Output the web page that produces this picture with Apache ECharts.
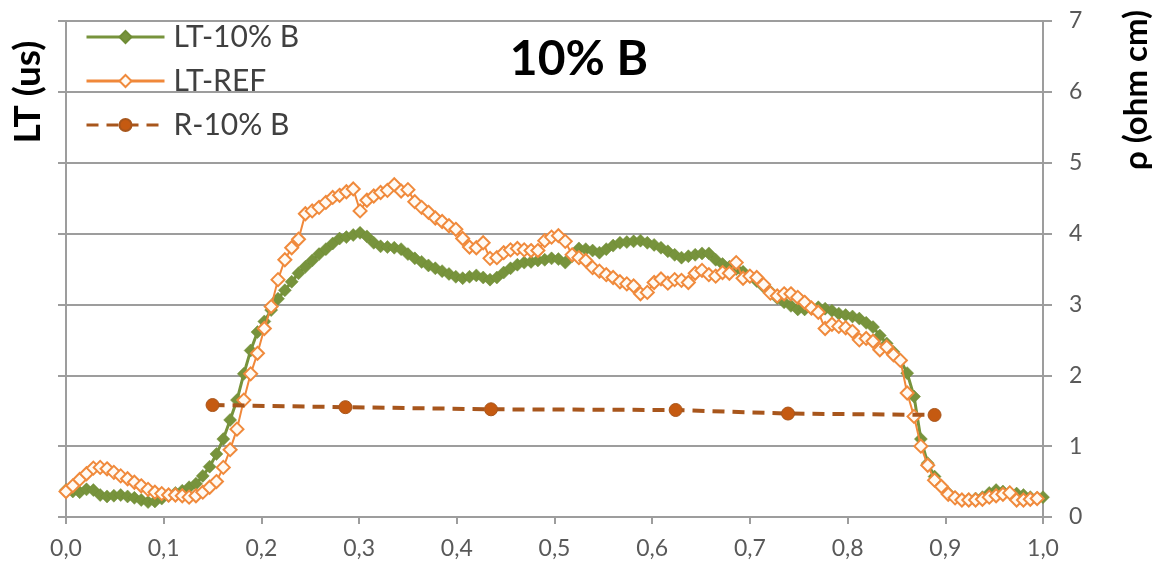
<!DOCTYPE html>
<html>
<head>
<meta charset="utf-8">
<script src="https://cdn.jsdelivr.net/npm/echarts@6/dist/echarts.min.js"></script>
<style>
html,body{margin:0;padding:0;background:#fff;}
#chart{width:1164px;height:586px;}
</style>
</head>
<body>
<div id="chart"></div>
<script>
// ---- Data ----
const xTickLabels = ['0,0','0,1','0,2','0,3','0,4','0,5','0,6','0,7','0,8','0,9','1,0'];
const yTickLabels = ['0','1','2','3','4','5','6','7'];

const xs = [0.000,0.007,0.014,0.021,0.028,0.035,0.042,0.049,0.056,0.063,
0.070,0.077,0.084,0.091,0.098,0.105,0.112,0.119,0.126,0.133,
0.140,0.147,0.154,0.161,0.168,0.175,0.182,0.189,0.196,0.203,
0.210,0.217,0.224,0.231,0.238,0.245,0.252,0.259,0.266,0.273,
0.280,0.287,0.294,0.301,0.308,0.315,0.322,0.329,0.336,0.343,
0.350,0.357,0.364,0.371,0.378,0.385,0.392,0.399,0.406,0.413,
0.420,0.427,0.434,0.441,0.448,0.455,0.462,0.469,0.476,0.483,
0.490,0.497,0.504,0.511,0.518,0.525,0.532,0.539,0.546,0.553,
0.560,0.567,0.574,0.581,0.588,0.595,0.602,0.609,0.616,0.623,
0.630,0.637,0.644,0.651,0.658,0.665,0.672,0.679,0.686,0.693,
0.700,0.707,0.714,0.721,0.728,0.735,0.742,0.749,0.756,0.763,
0.770,0.777,0.784,0.791,0.798,0.805,0.812,0.819,0.826,0.833,
0.840,0.847,0.854,0.861,0.868,0.875,0.882,0.889,0.896,0.903,
0.910,0.917,0.924,0.931,0.938,0.945,0.952,0.959,0.966,0.973,
0.980,0.987,0.994,1.000];

const lt10B = [0.38,0.36,0.35,0.39,0.38,0.31,0.29,0.30,0.31,0.29,
0.27,0.24,0.21,0.22,0.26,0.30,0.34,0.37,0.42,0.47,
0.58,0.71,0.89,1.10,1.37,1.65,2.02,2.35,2.61,2.76,
2.92,3.08,3.20,3.32,3.44,3.53,3.62,3.71,3.78,3.86,
3.93,3.95,3.98,4.01,3.96,3.87,3.82,3.81,3.80,3.78,
3.71,3.65,3.60,3.55,3.51,3.47,3.43,3.39,3.37,3.39,
3.41,3.38,3.35,3.38,3.45,3.51,3.56,3.59,3.60,3.62,
3.63,3.65,3.64,3.59,3.68,3.79,3.78,3.76,3.73,3.78,
3.83,3.87,3.88,3.89,3.90,3.87,3.84,3.80,3.75,3.70,
3.66,3.68,3.70,3.72,3.72,3.63,3.57,3.53,3.50,3.46,
3.39,3.33,3.25,3.18,3.09,3.03,2.98,2.93,2.93,2.94,
2.96,2.94,2.91,2.87,2.85,2.83,2.80,2.74,2.68,2.56,
2.45,2.33,2.22,2.03,1.70,1.10,0.76,0.57,0.44,0.34,
0.28,0.24,0.25,0.26,0.28,0.34,0.38,0.36,0.35,0.33,
0.31,0.28,0.27,0.28];

const ltRef = [0.36,0.44,0.53,0.61,0.69,0.70,0.68,0.63,0.58,0.54,
0.49,0.44,0.39,0.35,0.33,0.31,0.31,0.30,0.28,0.30,
0.35,0.42,0.50,0.70,0.95,1.24,1.65,2.02,2.31,2.66,
2.97,3.35,3.63,3.80,3.92,4.28,4.32,4.37,4.44,4.51,
4.54,4.59,4.63,4.32,4.47,4.53,4.58,4.61,4.69,4.60,
4.62,4.45,4.37,4.30,4.22,4.17,4.11,4.06,3.93,3.81,
3.80,3.87,3.65,3.66,3.73,3.77,3.79,3.77,3.76,3.76,
3.90,3.95,3.97,3.89,3.70,3.66,3.62,3.52,3.47,3.42,
3.38,3.32,3.29,3.26,3.15,3.17,3.31,3.36,3.30,3.35,
3.34,3.31,3.44,3.48,3.42,3.40,3.45,3.44,3.59,3.37,
3.40,3.38,3.28,3.16,3.12,3.15,3.15,3.10,3.03,2.95,
2.89,2.66,2.72,2.69,2.67,2.62,2.50,2.52,2.48,2.36,
2.40,2.29,2.21,1.75,1.42,1.00,0.73,0.52,0.43,0.32,
0.27,0.24,0.24,0.24,0.25,0.28,0.30,0.32,0.34,0.24,
0.24,0.25,0.26,null];

const rX = [0.150,0.286,0.435,0.624,0.739,0.889];
const r10B = [1.58,1.55,1.52,1.51,1.46,1.44];

// ---- Build series data ----
function pairs(x, y){
  const out = [];
  for (let i = 0; i < x.length; i++) if (y[i] !== null && y[i] !== undefined) out.push([x[i], y[i]]);
  return out;
}

const FONT = 'Lato, "Liberation Sans", sans-serif';
const GRID_COLOR = '#9d9d9d';
const LABEL_COLOR = '#595959';

const chart = echarts.init(document.getElementById('chart'), null, {renderer: 'canvas'});
chart.setOption({
  animation: false,
  backgroundColor: '#ffffff',
  textStyle: {fontFamily: FONT},
  title: {
    text: '10% B',
    left: 574, top: 31,
    textAlign: 'center',
    textStyle: {fontFamily: FONT, fontSize: 48, fontWeight: 'bold', color: '#000'}
  },
  legend: {
    orient: 'vertical',
    left: 80, top: 17,
    itemWidth: 78, itemHeight: 15,
    itemGap: 14,
    lineStyle: {width: 3},
    textStyle: {fontFamily: FONT, fontSize: 30, color: '#404040', padding: [0,0,0,4]},
    data: ['LT-10% B', 'LT-REF', 'R-10% B']
  },
  grid: {left: 66, right: 121, top: 21, bottom: 69, containLabel: false},
  xAxis: {
    type: 'value', min: 0, max: 1, interval: 0.1,
    axisLine: {show: true, lineStyle: {color: GRID_COLOR, width: 2}},
    axisTick: {show: true, length: 7, lineStyle: {color: GRID_COLOR, width: 2}},
    axisLabel: {
      margin: 20, fontSize: 23, color: LABEL_COLOR, fontFamily: FONT,
      formatter: function(v){ return xTickLabels[Math.round(v*10)]; }
    },
    splitLine: {show: false}
  },
  yAxis: [
    {
      type: 'value', min: 0, max: 7, interval: 1, position: 'left',
      axisLine: {show: true, lineStyle: {color: GRID_COLOR, width: 2}},
      axisTick: {show: true, length: 8, lineStyle: {color: GRID_COLOR, width: 2}},
      axisLabel: {show: false},
      splitLine: {show: true, lineStyle: {color: GRID_COLOR, width: 2}}
    },
    {
      type: 'value', min: 0, max: 7, interval: 1, position: 'right',
      axisLine: {show: true, lineStyle: {color: GRID_COLOR, width: 2}},
      axisTick: {show: true, length: 9, lineStyle: {color: GRID_COLOR, width: 2}},
      axisLabel: {
        show: true, margin: 26, fontSize: 23, color: LABEL_COLOR, fontFamily: FONT,
        formatter: function(v){ return yTickLabels[Math.round(v)]; }
      },
      splitLine: {show: false}
    }
  ],
  graphic: [
    {
      type: 'text', x: 28, y: 92, rotation: Math.PI/2,
      style: {text: 'LT (us)', fontFamily: FONT, fontSize: 37, fontWeight: 'bold', fill: '#000', align: 'center', verticalAlign: 'middle'}
    },
    {
      type: 'text', x: 1136, y: 90, rotation: Math.PI/2,
      style: {text: 'ρ (ohm cm)', fontFamily: FONT, fontSize: 33, fontWeight: 'bold', fill: '#000', align: 'center', verticalAlign: 'middle'}
    }
  ],
  series: [
    {
      name: 'LT-10% B', type: 'line', yAxisIndex: 0,
      data: pairs(xs, lt10B),
      symbol: 'diamond', symbolSize: 13,
      lineStyle: {color: '#77933c', width: 3},
      itemStyle: {color: '#77933c', borderColor: '#6f8c35', borderWidth: 0.5},
      z: 2
    },
    {
      name: 'LT-REF', type: 'line', yAxisIndex: 0,
      data: pairs(xs, ltRef),
      symbol: 'diamond', symbolSize: 13,
      lineStyle: {color: '#f0883a', width: 2},
      itemStyle: {color: '#fffaf3', borderColor: '#f08a3c', borderWidth: 2},
      z: 3
    },
    {
      name: 'R-10% B', type: 'line', yAxisIndex: 1,
      data: pairs(rX, r10B),
      symbol: 'circle', symbolSize: 13,
      lineStyle: {color: '#a8561c', width: 4, type: [12, 8]},
      itemStyle: {color: '#c55a11', borderColor: '#a8561c', borderWidth: 1},
      z: 4
    }
  ]
});
</script>
</body>
</html>
